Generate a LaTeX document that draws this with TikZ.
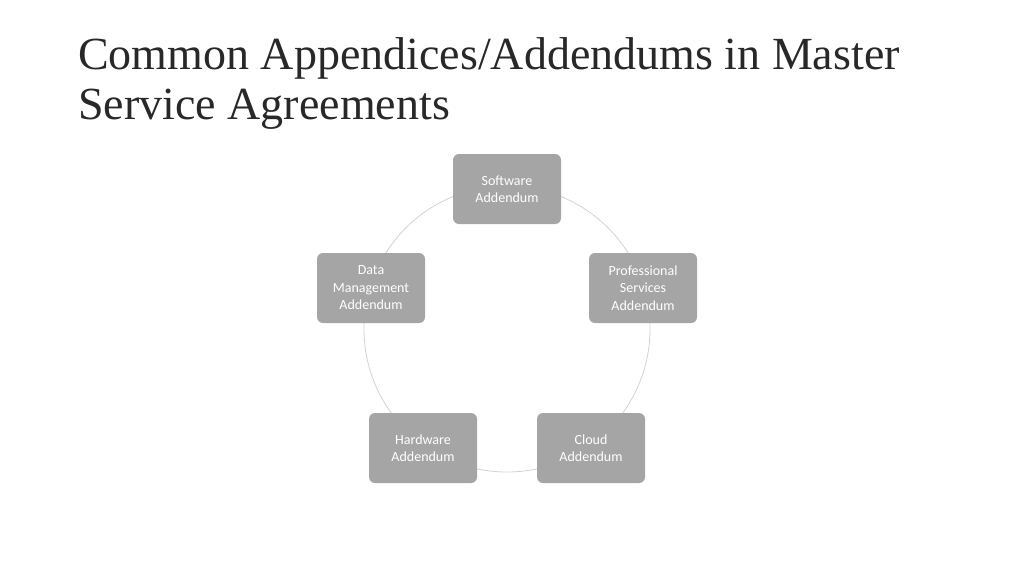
\documentclass[tikz,border=0pt]{standalone}
\usepackage{fontspec}
\setmainfont{Liberation Serif}
\newfontfamily\boxfont{Carlito}
\usepackage{tikz}
\usetikzlibrary{positioning}
\definecolor{boxgray}{RGB}{165,165,165}
\definecolor{ringgray}{RGB}{210,210,210}
\definecolor{titlegray}{RGB}{40,40,40}
\tikzset{
  addbox/.style={draw=none, fill=boxgray, rounded corners=6pt, minimum width=108pt,
    minimum height=70pt, align=center, text=white, font=\boxfont\fontsize{14}{17.5}\selectfont},
}
\begin{document}
\begin{tikzpicture}[x=1pt,y=-1pt]
\useasboundingbox (0,0) rectangle (1024,576);
% title
\node (title) [anchor=north west, align=left, inner sep=0pt, text=titlegray, font=\fontsize{46}{50}\selectfont] at (78,37)
  {Common Appendices/Addendums in Master\\Service Agreements};
% ring
\coordinate (ctr) at (507,329);
\draw [ringgray, line width=0.8pt] (ctr) circle (143);
% addenda
\node (soft) [addbox] at (507,189) {Software\\Addendum};
\node (prof) [addbox] at (643,288) {Professional\\Services\\Addendum};
\node (cloud) [addbox] at (591,448) {Cloud\\Addendum};
\node (hard) [addbox] at (423,448) {Hardware\\Addendum};
\node (data) [addbox] at (371,288) {Data\\Management\\Addendum};
\end{tikzpicture}
\end{document}
